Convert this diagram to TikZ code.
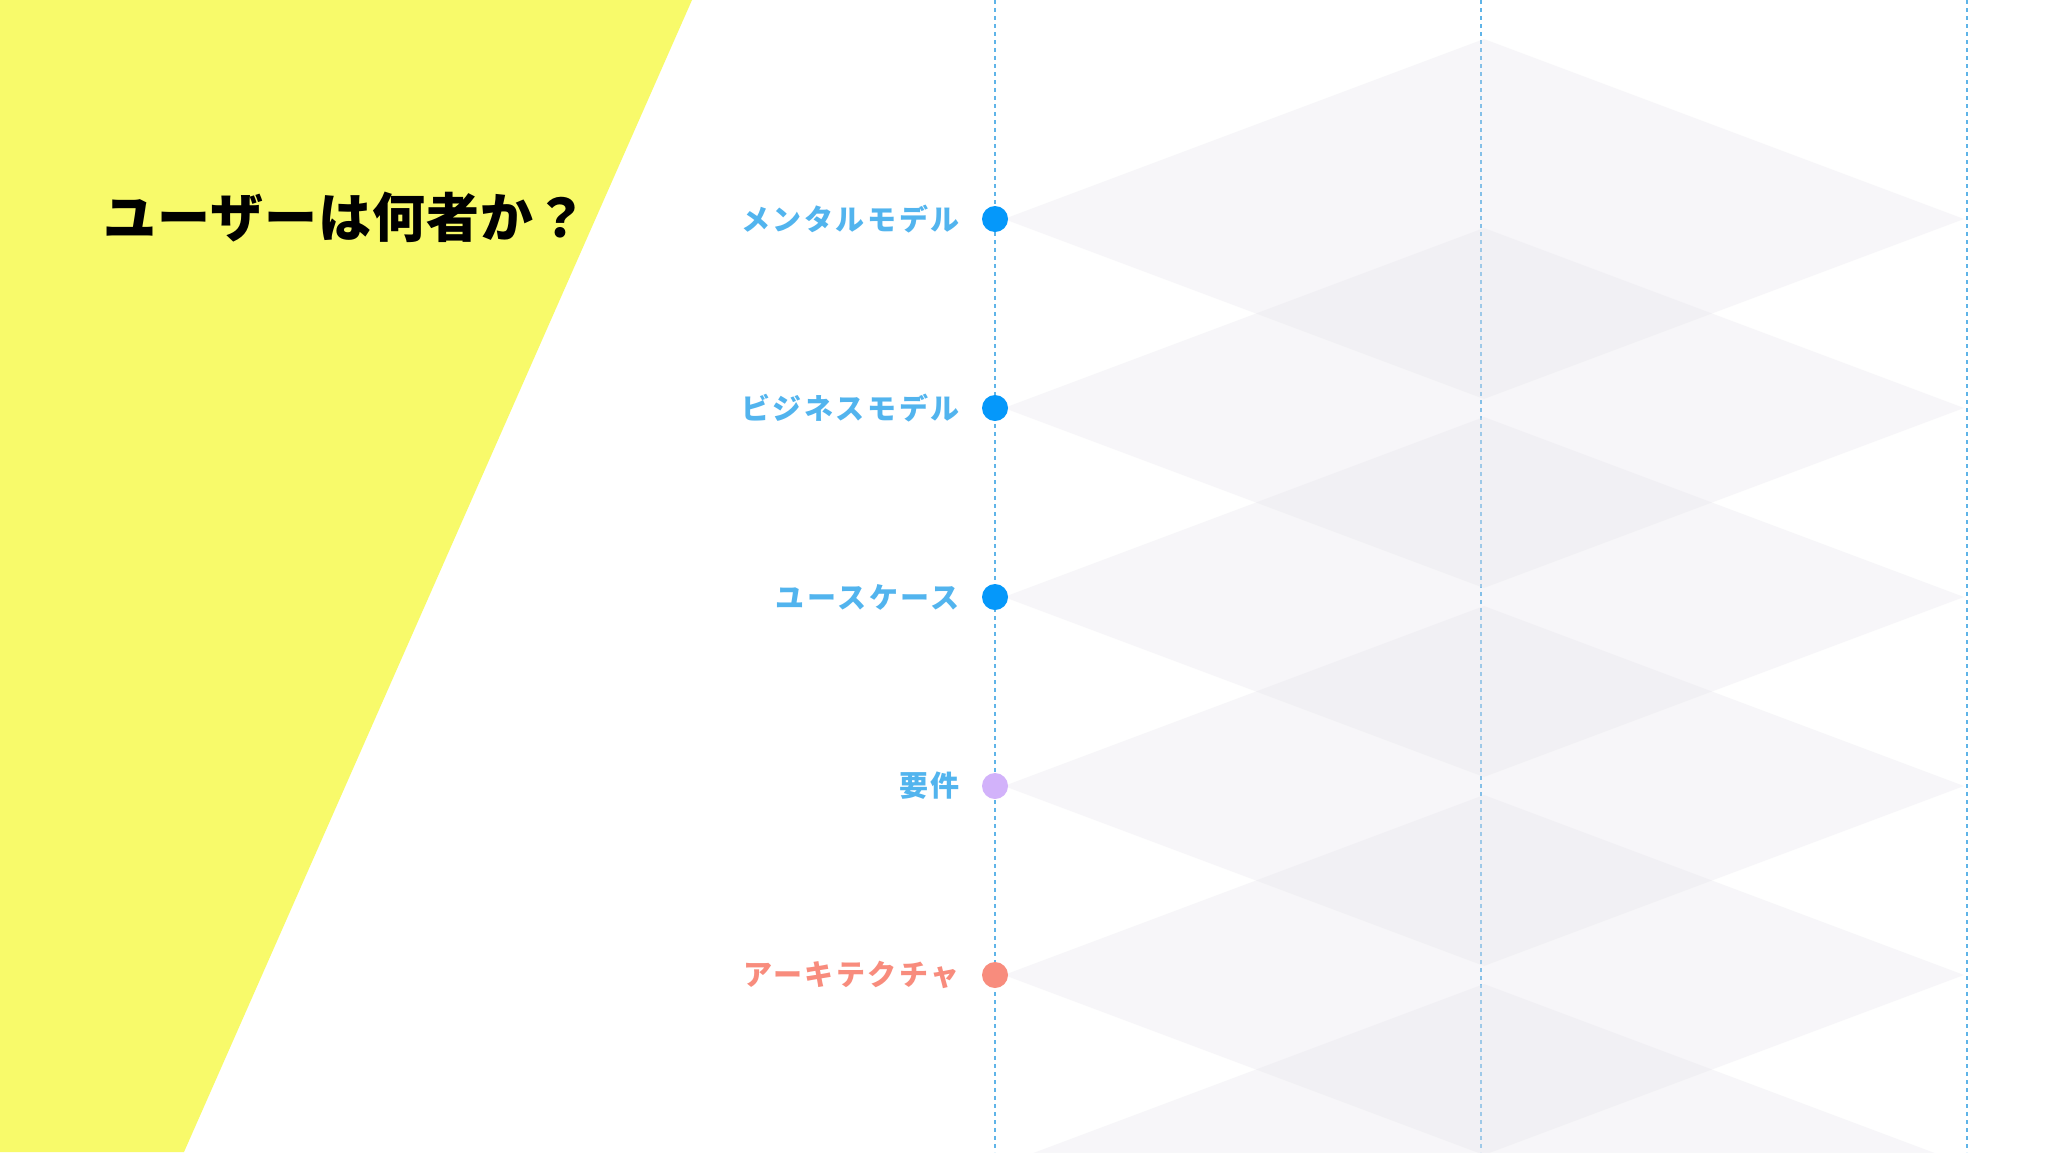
\documentclass[tikz,border=0pt]{standalone}
\usepackage{fontspec}
\newfontfamily\jptitle{Noto Sans CJK JP}[LetterSpace=2]
\newfontfamily\jplabel{Noto Sans CJK JP}[LetterSpace=9]

\definecolor{slideyellow}{RGB}{248,250,106}
\definecolor{labelblue}{RGB}{82,180,238}
\definecolor{dotblue}{RGB}{5,152,250}
\definecolor{dotpurple}{RGB}{210,178,250}
\definecolor{salmon}{RGB}{248,140,125}
\definecolor{rhombgray}{RGB}{228,226,234}
\definecolor{guideblue}{RGB}{95,180,232}

\begin{document}
\begin{tikzpicture}[x=1pt,y=-1pt,
  guide/.style={guideblue,line width=1.6pt,dash pattern=on 4pt off 4pt},
  rhomb/.style={fill=rhombgray,fill opacity=0.28},
  dot/.style={circle,fill,inner sep=0pt,minimum size=26pt},
  lbl/.style={anchor=east,inner sep=0pt,font=\jplabel\bfseries\fontsize{29}{34}\selectfont}]
  \useasboundingbox (0,0) rectangle (2048,1152);
  \clip (0,0) rectangle (2048,1152);
  \fill[white] (0,0) rectangle (2048,1152);
  \fill[slideyellow] (0,0) -- (692,0) -- (184,1152) -- (0,1152) -- cycle;
  \node[anchor=west,inner sep=0pt,font=\jptitle\bfseries\fontsize{53}{60}\selectfont] (title) at (103,217) {ユーザーは何者か？};
  % guide lines
  \coordinate (g1top) at (995,0);   \coordinate (g1bot) at (995,1152);
  \coordinate (g2top) at (1481,0);  \coordinate (g2bot) at (1481,1152);
  \coordinate (g3top) at (1967,0);  \coordinate (g3bot) at (1967,1152);
  \draw[guide] (g1top) -- (g1bot);
  \draw[guide] (g2top) -- (g2bot);
  \draw[guide] (g3top) -- (g3bot);
  % stacked rhombs
  \fill[rhomb] (1484,39) -- (1964,219) -- (1484,399) -- (1004,219) -- cycle;
  \fill[rhomb] (1484,228) -- (1964,408) -- (1484,588) -- (1004,408) -- cycle;
  \fill[rhomb] (1484,417) -- (1964,597) -- (1484,777) -- (1004,597) -- cycle;
  \fill[rhomb] (1484,606) -- (1964,786) -- (1484,966) -- (1004,786) -- cycle;
  \fill[rhomb] (1484,795) -- (1964,975) -- (1484,1155) -- (1004,975) -- cycle;
  \fill[rhomb] (1484,984) -- (1964,1164) -- (1484,1344) -- (1004,1164) -- cycle;
  % layers
  \node[dot,dotblue] (mental) at (995,219) {};
  \node[dot,dotblue] (business) at (995,408) {};
  \node[dot,dotblue] (usecase) at (995,597) {};
  \node[dot,dotpurple] (req) at (995,786) {};
  \node[dot,salmon] (arch) at (995,975) {};
  \node[lbl,labelblue] (mentallbl) at (960,219) {メンタルモデル};
  \node[lbl,labelblue] (businesslbl) at (960,408) {ビジネスモデル};
  \node[lbl,labelblue] (usecaselbl) at (960,597) {ユースケース};
  \node[lbl,labelblue] (reqlbl) at (960,786) {要件};
  \node[lbl,salmon] (archlbl) at (960,975) {アーキテクチャ};
\end{tikzpicture}
\end{document}
